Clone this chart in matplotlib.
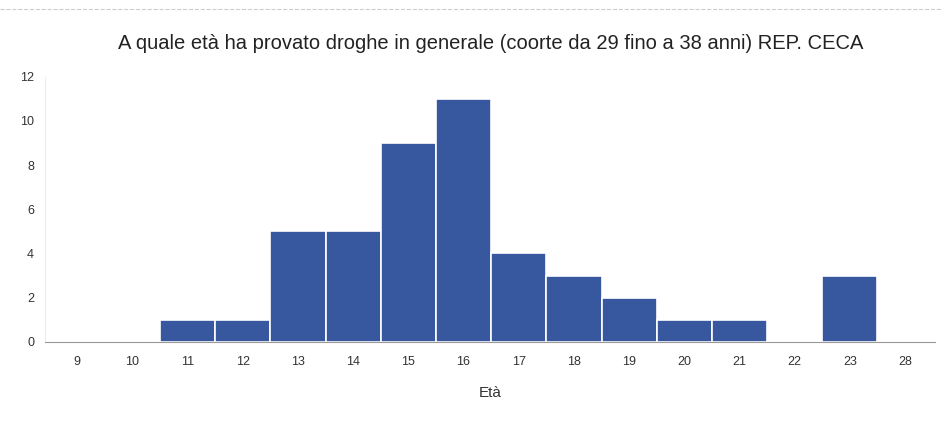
import matplotlib.pyplot as plt

ages = ['9', '10', '11', '12', '13', '14', '15', '16', '17', '18', '19', '20', '21', '22', '23', '28']
counts = [0, 0, 1, 1, 5, 5, 9, 11, 4, 3, 2, 1, 1, 0, 3, 0]
yticks = [0, 2, 4, 6, 8, 10, 12]

plt.rcParams['font.family'] = ['Liberation Sans Narrow', 'Liberation Sans', 'DejaVu Sans']

fig = plt.figure(figsize=(9.42, 4.21), dpi=100)
ax = fig.add_axes([0.048, 0.188, 0.945, 0.63])

ax.bar(range(len(ages)), counts, width=1.0, color='#37579f', edgecolor='white', linewidth=1.2)

ax.set_xlim(-0.58, 15.55)
ax.set_ylim(0, 12)
ax.set_xticks(range(len(ages)))
ax.set_xticklabels(ages)
ax.set_yticks(yticks)
ax.tick_params(axis='both', length=0, labelsize=9, colors='#333333')
ax.tick_params(axis='x', pad=10)
ax.tick_params(axis='y', pad=8)

for s in ['top', 'right']:
    ax.spines[s].set_visible(False)
ax.spines['left'].set_color('#eeeeee')
ax.spines['bottom'].set_color('#999999')
ax.spines['bottom'].set_linewidth(0.8)

ax.set_title('A quale età ha provato droghe in generale (coorte da 29 fino a 38 anni) REP. CECA',
             fontsize=14.5, color='#222222', pad=20)
ax.set_xlabel('Età', fontsize=11, color='#333333', labelpad=13)

# faint scan line at top
fig.add_artist(plt.Line2D([0.0, 1.0], [0.978, 0.978], color='#cccccc', linewidth=0.8, linestyle='--'))

fig.savefig('out.png', dpi=100)
